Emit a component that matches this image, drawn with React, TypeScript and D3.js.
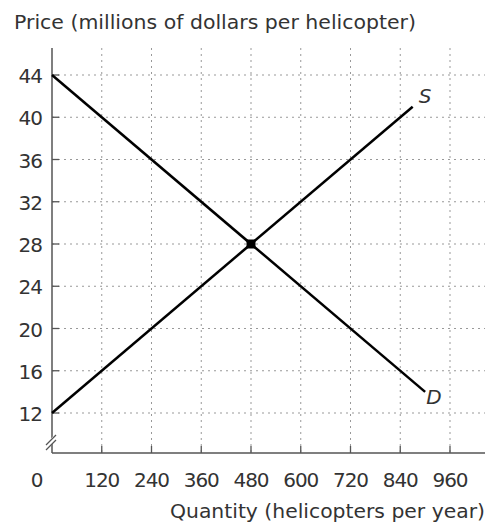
import React from "react";
import * as d3 from "d3";

const xTicks = [120, 240, 360, 480, 600, 720, 840, 960];
const yTicks = [12, 16, 20, 24, 28, 32, 36, 40, 44];
const demand = [
  { q: 0, p: 44 },
  { q: 900, p: 14 },
];
const supply = [
  { q: 0, p: 12 },
  { q: 870, p: 41 },
];
const equilibrium = { q: 480, p: 28 };

const W = 491;
const H = 527;
const x0 = 52;
const y0 = 453;

export default function App() {
  const x = d3.scaleLinear().domain([0, 960]).range([x0, 450]);
  const y = d3.scaleLinear().domain([12, 44]).range([413, 75]);
  const line = d3
    .line<{ q: number; p: number }>()
    .x((d) => x(d.q))
    .y((d) => y(d.p));
  const font = "'DejaVu Sans', sans-serif";
  const textColor = "#333";
  const fs = 20;
  return (
    <svg
      width={W}
      height={H}
      style={{ position: "absolute", left: 0, top: 0, background: "#fff" }}
      fontFamily={font}
    >
      {/* grid */}
      {xTicks.map((t) => (
        <line
          key={"gx" + t}
          x1={x(t)}
          x2={x(t)}
          y1={48}
          y2={y0}
          stroke="#999"
          strokeWidth={1}
          strokeDasharray="2,4"
        />
      ))}
      {yTicks.map((t) => (
        <line
          key={"gy" + t}
          x1={x0}
          x2={485}
          y1={y(t)}
          y2={y(t)}
          stroke="#999"
          strokeWidth={1}
          strokeDasharray="2,4"
        />
      ))}
      {/* axes */}
      <line x1={x0} x2={x0} y1={48} y2={y0} stroke="#555" strokeWidth={1.5} />
      <line x1={x0} x2={485} y1={y0} y2={y0} stroke="#555" strokeWidth={1.5} />
      {/* break marks */}
      <line x1={46} y1={447} x2={56} y2={437} stroke="#fff" strokeWidth={5} />
      <line x1={46} y1={445} x2={56} y2={435} stroke="#555" strokeWidth={1.3} />
      <line x1={46} y1={450} x2={56} y2={440} stroke="#555" strokeWidth={1.3} />
      {/* ticks */}
      {yTicks.map((t) => (
        <line key={"ty" + t} x1={x0} x2={x0 + 7} y1={y(t)} y2={y(t)} stroke="#555" strokeWidth={1.3} />
      ))}
      {xTicks.map((t) => (
        <line key={"tx" + t} x1={x(t)} x2={x(t)} y1={y0} y2={y0 - 7} stroke="#555" strokeWidth={1.3} />
      ))}
      {/* tick labels */}
      {yTicks.map((t) => (
        <text key={"ly" + t} x={42} y={y(t) + 8} textAnchor="end" fontSize={fs} letterSpacing={-1} fill={textColor}>
          {t}
        </text>
      ))}
      <text x={37} y={487} textAnchor="middle" fontSize={fs} fill={textColor}>
        0
      </text>
      {xTicks.map((t) => (
        <text key={"lx" + t} x={x(t)} y={487} textAnchor="middle" fontSize={fs} letterSpacing={-1} fill={textColor}>
          {t}
        </text>
      ))}
      {/* axis titles */}
      <text x={14} y={29} fontSize={fs} fill={textColor} textLength={402} lengthAdjust="spacingAndGlyphs">
        Price (millions of dollars per helicopter)
      </text>
      <text x={170} y={518} fontSize={fs} fill={textColor} textLength={315} lengthAdjust="spacingAndGlyphs">
        Quantity (helicopters per year)
      </text>
      {/* curves */}
      <path d={line(demand) || ""} fill="none" stroke="#000" strokeWidth={2.5} />
      <path d={line(supply) || ""} fill="none" stroke="#000" strokeWidth={2.5} />
      <rect x={x(equilibrium.q) - 4.5} y={y(equilibrium.p) - 4.5} width={9} height={9} fill="#000" />
      <text x={x(870) + 6} y={y(41) - 4} fontSize={fs} fontStyle="italic" fill={textColor}>
        S
      </text>
      <text x={x(900) + 1} y={y(14) + 12} fontSize={fs} fontStyle="italic" fill={textColor}>
        D
      </text>
    </svg>
  );
}
